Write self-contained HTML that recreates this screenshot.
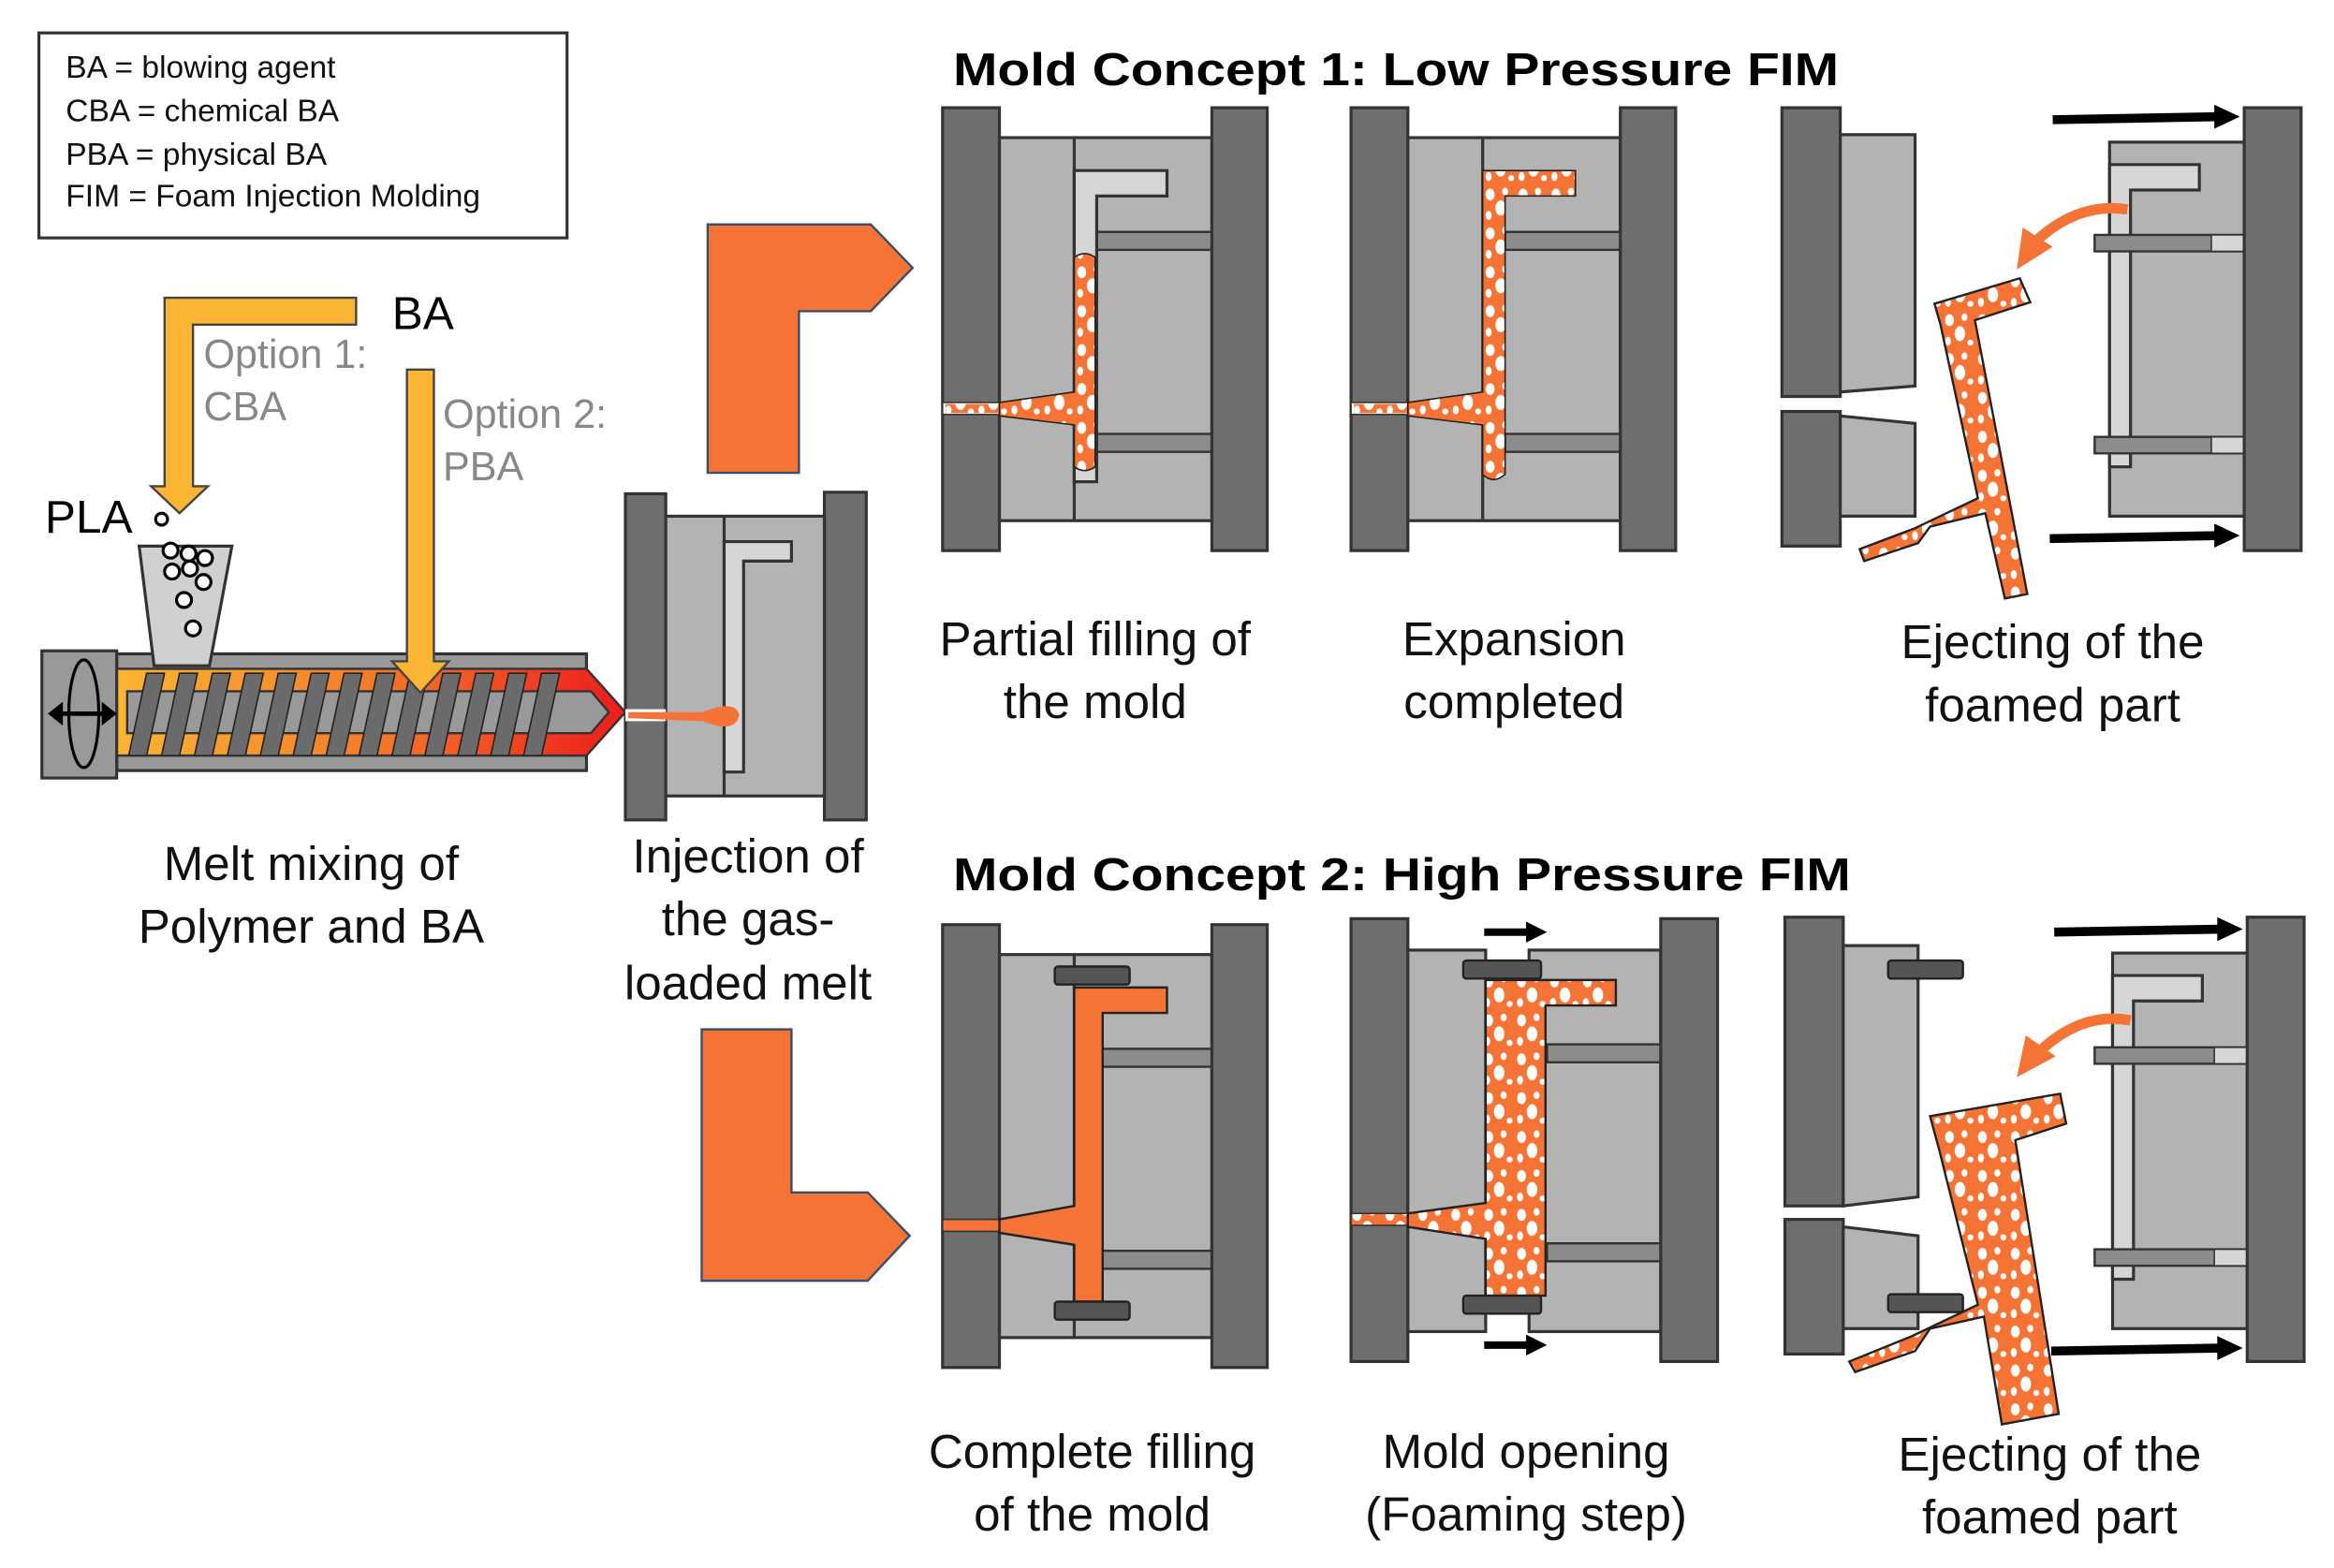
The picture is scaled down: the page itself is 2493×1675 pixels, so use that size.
<!DOCTYPE html>
<html><head><meta charset="utf-8"><style>
html,body{margin:0;padding:0;background:#fff;}
svg{display:block;}
text{font-family:"Liberation Sans",Arial,sans-serif;}
</style></head><body>
<svg width="2493" height="1675" viewBox="0 0 1560 1048" preserveAspectRatio="none" xmlns="http://www.w3.org/2000/svg">
<defs>
<pattern id="foam" width="22" height="26" patternUnits="userSpaceOnUse">
<rect width="22" height="26" fill="#f47335"/>
<ellipse cx="5" cy="6" rx="3" ry="4" fill="#fff"/>
<ellipse cx="15" cy="4" rx="2" ry="2.5" fill="#fff"/>
<ellipse cx="12" cy="15" rx="3.5" ry="5" fill="#fff"/>
<ellipse cx="4" cy="20" rx="2" ry="3" fill="#fff"/>
<ellipse cx="19" cy="21" rx="2" ry="2" fill="#fff"/>
</pattern>
<linearGradient id="melt" x1="0" x2="1" y1="0" y2="0">
<stop offset="0" stop-color="#fbb534"/><stop offset="0.5" stop-color="#f47b2a"/><stop offset="1" stop-color="#ec1c1c"/>
</linearGradient>
</defs>

<!-- Legend -->
<rect x="26" y="22" width="353" height="137" fill="#fff" stroke="#333" stroke-width="2"/>
<g font-size="21" fill="#111">
<text x="44" y="52">BA = blowing agent</text>
<text x="44" y="81">CBA = chemical BA</text>
<text x="44" y="110">PBA = physical BA</text>
<text x="44" y="138">FIM = Foam Injection Molding</text>
</g>

<!-- Titles -->
<text x="637" y="57" font-size="31" font-weight="bold" textLength="592" lengthAdjust="spacingAndGlyphs">Mold Concept 1: Low Pressure FIM</text>
<text x="637" y="595" font-size="31" font-weight="bold" textLength="600" lengthAdjust="spacingAndGlyphs">Mold Concept 2: High Pressure FIM</text>

<text x="262" y="220" font-size="31">BA</text>
<g font-size="27" fill="#888">
<text x="136" y="246">Option 1:</text><text x="136" y="281">CBA</text>
<text x="296" y="286">Option 2:</text><text x="296" y="321">PBA</text>
</g>
<text x="30" y="356" font-size="31">PLA</text>
<circle cx="108" cy="347" r="4" fill="none" stroke="#000" stroke-width="2"/>

<!-- Extruder -->
<rect x="78" y="437" width="314" height="78" fill="#999" stroke="#333" stroke-width="2"/>
<polygon points="78,447 392,447 418,476 392,505 78,505" fill="url(#melt)" stroke="#333" stroke-width="1.5"/>
<polygon points="85,462 395,462 407,476 395,490 85,490" fill="#999" stroke="#333" stroke-width="1.5"/>
<g fill="#6b6b6b" stroke="#222" stroke-width="1">
<polygon points="86,505 98,505 110,450 98,450"/>
<polygon points="108,505 120,505 132,450 120,450"/>
<polygon points="130,505 142,505 154,450 142,450"/>
<polygon points="152,505 164,505 176,450 164,450"/>
<polygon points="174,505 186,505 198,450 186,450"/>
<polygon points="196,505 208,505 220,450 208,450"/>
<polygon points="218,505 230,505 242,450 230,450"/>
<polygon points="240,505 252,505 264,450 252,450"/>
<polygon points="262,505 274,505 286,450 274,450"/>
<polygon points="284,505 296,505 308,450 296,450"/>
<polygon points="306,505 318,505 330,450 318,450"/>
<polygon points="328,505 340,505 352,450 340,450"/>
<polygon points="350,505 362,505 374,450 362,450"/>
</g>
<rect x="28" y="435" width="50" height="85" fill="#999" stroke="#333" stroke-width="2"/>
<ellipse cx="56" cy="477" rx="10" ry="36" fill="none" stroke="#000" stroke-width="2"/>
<line x1="36" y1="477" x2="76" y2="477" stroke="#000" stroke-width="3"/>
<polygon points="32,477 42,469 42,485" fill="#000"/><polygon points="78,477 68,469 68,485" fill="#000"/>
<!-- hopper -->
<polygon points="93,365 155,365 140,445 103,445" fill="#d0d0d0" stroke="#333" stroke-width="2"/>
<g fill="#fff" stroke="#000" stroke-width="2">
<circle cx="114" cy="368" r="5"/><circle cx="126" cy="370" r="5"/><circle cx="137" cy="373" r="5"/>
<circle cx="115" cy="382" r="5"/><circle cx="127" cy="380" r="5"/><circle cx="136" cy="389" r="5"/>
<circle cx="123" cy="401" r="5"/><circle cx="129" cy="420" r="5"/>
</g>

<!-- BA arrows (on top) -->
<polygon points="238,199 110,199 110,325 101,325 120,343 139,325 129,325 129,217 238,217" fill="#fbb534" stroke="#444" stroke-width="1.5"/>
<polygon points="272,247 290,247 290,442 300,442 281,463 262,442 272,442" fill="#fbb534" stroke="#444" stroke-width="1.5"/>

<!-- Small injection mold -->
<rect x="418" y="330" width="27" height="218" fill="#6e6e6e" stroke="#333" stroke-width="2"/>
<rect x="551" y="329" width="28" height="219" fill="#6e6e6e" stroke="#333" stroke-width="2"/>
<rect x="445" y="345" width="106" height="187" fill="#b3b3b3" stroke="#333" stroke-width="2"/>
<line x1="484" y1="345" x2="484" y2="532" stroke="#333" stroke-width="2"/>
<path d="M484,362 H529 V375 H497 V516 H484 Z" fill="#d6d6d6" stroke="#333" stroke-width="2"/>
<rect x="418" y="474" width="27" height="8" fill="#fff"/>
<path d="M420,478 H470 Q490,470 492,478 Q490,488 470,480 Z" fill="#f47335" stroke="#f47335" stroke-width="4"/>

<!-- Orange L arrows -->
<polygon points="473,150 582,150 610,179 582,208 534,208 534,316 473,316" fill="#f47335" stroke="#3a4f6a" stroke-width="1.5"/>
<polygon points="469,688 529,688 529,797 580,797 608,826 580,856 469,856" fill="#f47335" stroke="#3a4f6a" stroke-width="1.5"/>

<!-- Concept 1 panel 1 & 2 -->
<g transform="translate(630,72)">
<rect x="0" y="0" width="38" height="296" fill="#6e6e6e" stroke="#333" stroke-width="2"/>
<rect x="38" y="20" width="142" height="256" fill="#b3b3b3" stroke="#333" stroke-width="2"/>
<line x1="88" y1="20" x2="88" y2="276" stroke="#333" stroke-width="2"/>
<rect x="103" y="83" width="77" height="12" fill="#8c8c8c" stroke="#333" stroke-width="1.5"/>
<rect x="103" y="218" width="77" height="12" fill="#8c8c8c" stroke="#333" stroke-width="1.5"/>
<path d="M88,42 H150 V59 H103 V250 H88 Z" fill="#d6d6d6" stroke="#333" stroke-width="2"/>
<rect x="180" y="0" width="37" height="296" fill="#6e6e6e" stroke="#333" stroke-width="2"/>
<rect x="0" y="197" width="38" height="8" fill="#fff" stroke="#333" stroke-width="1"/>
<rect x="2" y="198" width="36" height="6" fill="url(#foam)"/>
<path d="M38,197 L88,190 V100 Q95,95 102,100 V240 Q95,245 88,240 V212 L38,206 Z" fill="url(#foam)" stroke="#222" stroke-width="1"/>
</g>
<g transform="translate(903,72)">
<rect x="0" y="0" width="38" height="296" fill="#6e6e6e" stroke="#333" stroke-width="2"/>
<rect x="38" y="20" width="142" height="256" fill="#b3b3b3" stroke="#333" stroke-width="2"/>
<line x1="88" y1="20" x2="88" y2="276" stroke="#333" stroke-width="2"/>
<rect x="103" y="83" width="77" height="12" fill="#8c8c8c" stroke="#333" stroke-width="1.5"/>
<rect x="103" y="218" width="77" height="12" fill="#8c8c8c" stroke="#333" stroke-width="1.5"/>
<rect x="180" y="0" width="37" height="296" fill="#6e6e6e" stroke="#333" stroke-width="2"/>
<rect x="0" y="197" width="38" height="8" fill="#fff" stroke="#333" stroke-width="1"/>
<rect x="2" y="198" width="36" height="6" fill="url(#foam)"/>
<path d="M38,197 L88,190 V42 H150 V59 H103 V245 Q95,252 88,245 V212 L38,206 Z" fill="url(#foam)" stroke="#222" stroke-width="1"/>
</g>

<!-- Concept 1 panel 3 -->
<g>
<rect x="1191" y="72" width="39" height="193" fill="#6e6e6e" stroke="#333" stroke-width="2"/>
<rect x="1191" y="275" width="39" height="90" fill="#6e6e6e" stroke="#333" stroke-width="2"/>
<polygon points="1230,90 1280,90 1280,258 1230,262" fill="#b3b3b3" stroke="#333" stroke-width="2"/>
<polygon points="1230,278 1280,283 1280,345 1230,345" fill="#b3b3b3" stroke="#333" stroke-width="2"/>
<rect x="1410" y="95" width="90" height="250" fill="#b3b3b3" stroke="#333" stroke-width="2"/>
<path d="M1410,110 H1470 V127 H1424 V312 H1410 Z" fill="#d6d6d6" stroke="#333" stroke-width="2"/>
<rect x="1400" y="157" width="100" height="11" fill="#8c8c8c" stroke="#333" stroke-width="1.5"/>
<rect x="1478" y="157" width="22" height="11" fill="#d6d6d6" stroke="#333" stroke-width="1"/>
<rect x="1400" y="292" width="100" height="11" fill="#8c8c8c" stroke="#333" stroke-width="1.5"/>
<rect x="1478" y="292" width="22" height="11" fill="#d6d6d6" stroke="#333" stroke-width="1"/>
<rect x="1500" y="72" width="38" height="296" fill="#6e6e6e" stroke="#333" stroke-width="2"/>
<line x1="1372" y1="80" x2="1482" y2="78" stroke="#000" stroke-width="6"/><polygon points="1480,70 1497,78 1480,86" fill="#000"/>
<line x1="1370" y1="360" x2="1482" y2="358" stroke="#000" stroke-width="6"/><polygon points="1480,350 1497,358 1480,366" fill="#000"/>
<path d="M1422,140 Q1390,135 1362,160" fill="none" stroke="#f47335" stroke-width="7"/>
<polygon points="1348,180 1352,152 1372,165" fill="#f47335"/>
<path d="M1293,203 L1350,186 L1357,202 L1320,214 L1355,397 L1340,400 L1327,343 L1290,352 L1282,363 L1246,375 L1243,367 L1280,353 L1322,333 L1297,217 Z" fill="url(#foam)" stroke="#222" stroke-width="1.5"/>
</g>

<!-- Concept 2 panel 1 -->
<g transform="translate(630,618)">
<rect x="0" y="0" width="38" height="296" fill="#6e6e6e" stroke="#333" stroke-width="2"/>
<rect x="38" y="20" width="142" height="256" fill="#b3b3b3" stroke="#333" stroke-width="2"/>
<line x1="88" y1="20" x2="88" y2="276" stroke="#333" stroke-width="2"/>
<rect x="103" y="83" width="77" height="12" fill="#8c8c8c" stroke="#333" stroke-width="1.5"/>
<rect x="103" y="218" width="77" height="12" fill="#8c8c8c" stroke="#333" stroke-width="1.5"/>
<rect x="180" y="0" width="37" height="296" fill="#6e6e6e" stroke="#333" stroke-width="2"/>
<rect x="0" y="197" width="38" height="8" fill="#f47335" stroke="#333" stroke-width="1"/>
<path d="M38,197 L88,188 V42 H150 V59 H107 V252 H88 V214 L38,206 Z" fill="#f47335" stroke="#222" stroke-width="1.5"/>
<rect x="75" y="28" width="50" height="12" rx="2" fill="#555" stroke="#222" stroke-width="1.5"/>
<rect x="75" y="252" width="50" height="12" rx="2" fill="#555" stroke="#222" stroke-width="1.5"/>
</g>

<!-- Concept 2 panel 2 -->
<g>
<rect x="903" y="614" width="38" height="296" fill="#6e6e6e" stroke="#333" stroke-width="2"/>
<rect x="941" y="635" width="52" height="255" fill="#b3b3b3" stroke="#333" stroke-width="2"/>
<rect x="1022" y="635" width="88" height="255" fill="#b3b3b3" stroke="#333" stroke-width="2"/>
<rect x="1034" y="698" width="76" height="12" fill="#8c8c8c" stroke="#333" stroke-width="1.5"/>
<rect x="1034" y="831" width="76" height="12" fill="#8c8c8c" stroke="#333" stroke-width="1.5"/>
<rect x="1110" y="614" width="38" height="296" fill="#6e6e6e" stroke="#333" stroke-width="2"/>
<rect x="903" y="811" width="38" height="8" fill="url(#foam)" stroke="#333" stroke-width="1"/>
<path d="M941,811 L993,804 V655 H1080 V672 H1033 V866 H993 V828 L941,820 Z" fill="url(#foam)" stroke="#222" stroke-width="1.5"/>
<rect x="978" y="642" width="52" height="12" rx="2" fill="#555" stroke="#222" stroke-width="1.5"/>
<rect x="978" y="866" width="52" height="12" rx="2" fill="#555" stroke="#222" stroke-width="1.5"/>
<line x1="992" y1="623" x2="1022" y2="623" stroke="#000" stroke-width="5"/><polygon points="1020,616 1034,623 1020,630" fill="#000"/>
<line x1="992" y1="899" x2="1022" y2="899" stroke="#000" stroke-width="5"/><polygon points="1020,892 1034,899 1020,906" fill="#000"/>
</g>

<!-- Concept 2 panel 3 -->
<g>
<rect x="1193" y="613" width="39" height="193" fill="#6e6e6e" stroke="#333" stroke-width="2"/>
<rect x="1193" y="815" width="39" height="90" fill="#6e6e6e" stroke="#333" stroke-width="2"/>
<polygon points="1232,632 1282,632 1282,800 1232,806" fill="#b3b3b3" stroke="#333" stroke-width="2"/>
<polygon points="1232,820 1282,826 1282,888 1232,888" fill="#b3b3b3" stroke="#333" stroke-width="2"/>
<rect x="1262" y="642" width="50" height="12" rx="2" fill="#555" stroke="#222" stroke-width="1.5"/>
<rect x="1262" y="865" width="50" height="12" rx="2" fill="#555" stroke="#222" stroke-width="1.5"/>
<rect x="1412" y="637" width="90" height="251" fill="#b3b3b3" stroke="#333" stroke-width="2"/>
<path d="M1412,652 H1472 V669 H1426 V855 H1412 Z" fill="#d6d6d6" stroke="#333" stroke-width="2"/>
<rect x="1400" y="700" width="102" height="11" fill="#8c8c8c" stroke="#333" stroke-width="1.5"/>
<rect x="1480" y="700" width="22" height="11" fill="#d6d6d6" stroke="#333" stroke-width="1"/>
<rect x="1400" y="835" width="102" height="11" fill="#8c8c8c" stroke="#333" stroke-width="1.5"/>
<rect x="1480" y="835" width="22" height="11" fill="#d6d6d6" stroke="#333" stroke-width="1"/>
<rect x="1502" y="613" width="38" height="297" fill="#6e6e6e" stroke="#333" stroke-width="2"/>
<line x1="1373" y1="623" x2="1484" y2="621" stroke="#000" stroke-width="6"/><polygon points="1482,613 1499,621 1482,629" fill="#000"/>
<line x1="1371" y1="903" x2="1484" y2="901" stroke="#000" stroke-width="6"/><polygon points="1482,893 1499,901 1482,909" fill="#000"/>
<path d="M1424,682 Q1392,676 1364,702" fill="none" stroke="#f47335" stroke-width="7"/>
<polygon points="1348,720 1354,692 1374,706" fill="#f47335"/>
<path d="M1290,746 L1377,731 L1381,751 L1347,762 L1376,945 L1338,952 L1326,880 L1290,888 L1280,903 L1240,917 L1236,910 L1278,893 L1322,872 L1296,768 Z" fill="url(#foam)" stroke="#222" stroke-width="1.5"/>
</g>

<!-- Labels -->
<g font-size="32" text-anchor="middle" fill="#111">
<text x="732" y="438">Partial filling of</text><text x="732" y="480">the mold</text>
<text x="1012" y="438">Expansion</text><text x="1012" y="480">completed</text>
<text x="1372" y="440">Ejecting of the</text><text x="1372" y="482">foamed part</text>
<text x="730" y="981">Complete filling</text><text x="730" y="1023">of the mold</text>
<text x="1020" y="981">Mold opening</text><text x="1020" y="1023">(Foaming step)</text>
<text x="1370" y="983">Ejecting of the</text><text x="1370" y="1025">foamed part</text>
<text x="208" y="588">Melt mixing of</text><text x="208" y="630">Polymer and BA</text>
<text x="500" y="583">Injection of</text><text x="500" y="625">the gas-</text><text x="500" y="668">loaded melt</text>
</g>
</svg>
</body></html>
